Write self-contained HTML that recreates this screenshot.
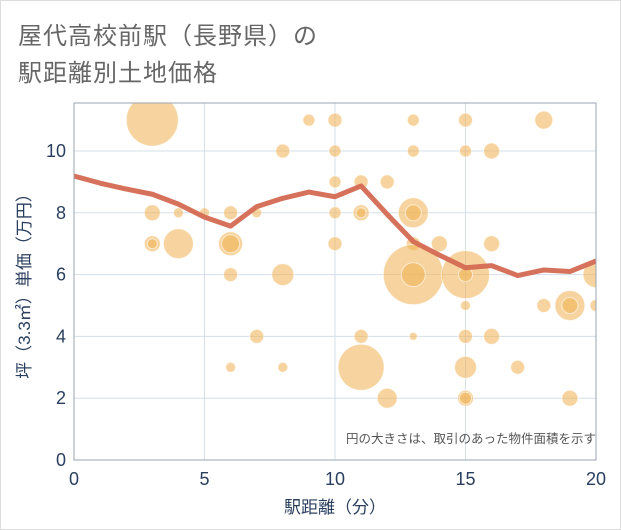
<!DOCTYPE html>
<html><head><meta charset="utf-8">
<style>
html,body{margin:0;padding:0;background:#fff;}
#wrap{position:relative;width:619px;height:528px;border:1px solid #ddd;background:#fff;overflow:hidden;font-family:"Liberation Sans","Noto Sans CJK JP",sans-serif;}
.title{position:absolute;left:17px;font-size:24px;color:#666;letter-spacing:1px;}
</style></head>
<body>
<div id="wrap">
<div class="title" style="top:15px">屋代高校前駅（長野県）の</div>
<div class="title" style="top:52px">駅距離別土地価格</div>
<svg id="chart" width="621" height="530" style="position:absolute;left:-1px;top:-1px">
<defs><clipPath id="clip"><rect x="74" y="103" width="522" height="357"/></clipPath></defs>
<g id="grid"></g>
<g id="bubbles" clip-path="url(#clip)"></g>
<g id="line" clip-path="url(#clip)"></g>
<g id="axes"></g>
<text x="596" y="443" text-anchor="end" font-size="12.5" fill="#555" font-family="Liberation Sans,Noto Sans CJK JP,sans-serif">円の大きさは、取引のあった物件面積を示す</text>
<text x="335" y="513" text-anchor="middle" font-size="17" fill="#2a3f5f" font-family="Liberation Sans,Noto Sans CJK JP,sans-serif">駅距離（分）</text>
<text transform="translate(30,282) rotate(-90)" text-anchor="middle" font-size="17" fill="#2a3f5f" font-family="Liberation Sans,Noto Sans CJK JP,sans-serif">坪（3.3㎡）単価（万円）</text>
</svg>
</div>
<script>
const xTicks=[0,5,10,15,20];
const yTicks=[0,2,4,6,8,10];
const bx=[3,3,3,3,4,4,5,6,6,6,6,7,7,6,8,8,8,9,10,10,10,10,10,11,11,11,11,11,12,12,13,13,13,13,13,13,13,13,14,15,15,15,15,15,15,15,15,15,16,16,16,17,18,18,19,19,19,20,20];
const by=[11,8,7,7,8,7,8,8,7,7,6,8,4,3,10,6,3,11,11,10,9,8,7,9,8,8,4,3,9,2,11,10,8,8,7,6,6,4,7,11,10,6,6,5,4,3,2,2,10,7,4,3,11,5,5,5,2,6,5];
const br=[26,8,8,5,5,15,5,7,12,9,7,5,7,5,7,11,5,6,7,6,6,6,7,7,8,5,7,23,7,10,6,6,15,8,7,30,12,4,8,7,6,24,7,5,7,11,8,6,8,8,8,7,9,7,15,8,8,13,6];
const lineX=[0,1,2,3,4,5,6,7,8,9,10,11,12,13,14,15,16,17,18,19,20];
const lineY=[9.19,8.96,8.77,8.6,8.28,7.86,7.57,8.2,8.47,8.67,8.52,8.87,7.95,7.07,6.63,6.22,6.29,5.97,6.15,6.1,6.44];
const X=v=>74+v*26.1, Y=v=>460-v*30.9;
const NS='http://www.w3.org/2000/svg';
function mk(t,a,p){const e=document.createElementNS(NS,t);for(const k in a)e.setAttribute(k,a[k]);p.appendChild(e);return e;}
const grid=document.getElementById('grid'),axes=document.getElementById('axes');
xTicks.forEach(t=>{
 const l=mk('line',{x1:X(t),x2:X(t),y1:103,y2:460,stroke:'#d5dfea','stroke-width':1},grid);
 
 
 const tx=mk('text',{x:X(t),y:485,'text-anchor':'middle','font-size':18,fill:'#2a3f5f'},axes);tx.textContent=t;
 
 
});
yTicks.forEach(t=>{
 const l=mk('line',{x1:74,x2:596,y1:Y(t),y2:Y(t),stroke:'#d5dfea','stroke-width':1},grid);
 
 
 const tx=mk('text',{x:66,y:Y(t)+6,'text-anchor':'end','font-size':18,fill:'#2a3f5f'},axes);tx.textContent=t;
 
 
});
const frame=mk('rect',{x:74,y:103,width:522,height:357,fill:'none',stroke:'#9aa5b1','stroke-width':1},axes);


const bg=document.getElementById('bubbles');
bx.forEach((v,i)=>{
 const c=mk('circle',{cx:X(v),cy:Y(by[i]),r:br[i],fill:'#f0b050','fill-opacity':0.55,stroke:'#fff','stroke-opacity':0.6,'stroke-width':1},bg);
 
 
});
const pts=lineX.map((v,i)=>X(v)+','+Y(lineY[i])).join(' ');
const pl=mk('polyline',{points:pts,fill:'none',stroke:'#d46a52','stroke-width':5,'stroke-linejoin':'round','stroke-opacity':0.95},document.getElementById('line'));


</script>
</body></html>
